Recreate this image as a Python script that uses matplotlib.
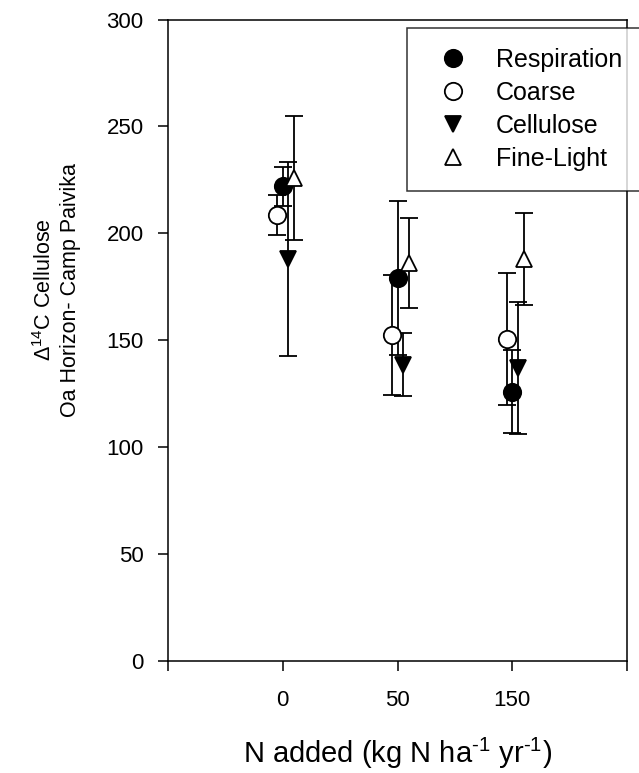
import matplotlib
matplotlib.use("Agg")
import matplotlib.pyplot as plt
from matplotlib.lines import Line2D
import numpy as np

# N additions (categorical x axis)
n_levels = ["0", "50", "150"]

# Delta 14C values and error half-widths for each fraction
respiration = [222, 179, 126]
respiration_err = [9, 36, 19.5]
coarse = [208.5, 152.5, 150.5]
coarse_err = [9.3, 28, 31]
cellulose = [188, 138.5, 137]
cellulose_err = [45.5, 14.7, 31]
fine_light = [226, 186, 188]
fine_light_err = [29, 21, 21.5]

plt.rcParams['font.family'] = ['Liberation Sans', 'DejaVu Sans']
plt.rcParams['mathtext.fontset'] = 'custom'
plt.rcParams['mathtext.rm'] = 'Liberation Sans'
plt.rcParams['mathtext.it'] = 'Liberation Sans'

fig = plt.figure(figsize=(6.39, 7.73), dpi=100)
ax = fig.add_axes([168 / 639, 112 / 773, 459 / 639, 641.5 / 773])

x = np.arange(1, len(n_levels) + 1)
series = [
    ("Respiration", respiration, respiration_err, 'o', 'black', 0.0),
    ("Coarse", coarse, coarse_err, 'o', 'white', -0.05),
    ("Cellulose", cellulose, cellulose_err, 'v', 'black', 0.05),
    ("Fine-Light", fine_light, fine_light_err, '^', 'white', 0.10),
]

handles = []
for name, vals, errs, marker, face, shift in series:
    ms = 12.5 if marker == 'o' else 11.5
    ax.errorbar(x + shift, vals, yerr=errs, fmt=marker, ms=ms,
                mfc=face, mec='black', mew=1.3, ecolor='black',
                elinewidth=1.3, capsize=6.5, capthick=1.3)
    handles.append(Line2D([], [], ls='none', marker=marker, ms=ms,
                          mfc=face, mec='black', mew=1.3, label=name))

ax.set_xlim(0, 4)
ax.set_ylim(0, 300)
ax.set_xticks([0, 1, 2, 3, 4])
ax.set_xticklabels([""] + n_levels + [""])
ax.set_yticks(np.arange(0, 301, 50))
ax.tick_params(direction='out', length=7, width=1.1, labelsize=16)
ax.tick_params(axis='x', pad=14)
ax.tick_params(axis='y', pad=10.5)
for sp in ax.spines.values():
    sp.set_linewidth(1.1)

ax.set_xlabel("N added (kg N ha$^{\\mathregular{\u20101}}$ yr$^{\\mathregular{\u20101}}$)",
              fontsize=21, labelpad=18)
fig.text(57 / 639, 1 - 290 / 773,
         "$\\Delta^{\\mathregular{14}}$C Cellulose\nOa Horizon- Camp Paivika",
         rotation=90, ha='center', va='center', fontsize=15.5,
         multialignment='center', linespacing=1.3)

leg = fig.legend(handles=handles, loc='upper left',
                 bbox_to_anchor=(407 / 639, 1 - 28 / 773),
                 fontsize=18, frameon=True, fancybox=False,
                 edgecolor='black', borderpad=0.8, labelspacing=0.36,
                 handlelength=2.1, handletextpad=0.65, borderaxespad=0)
leg.get_frame().set_linewidth(1.1)

fig.savefig("out.png", dpi=100)
